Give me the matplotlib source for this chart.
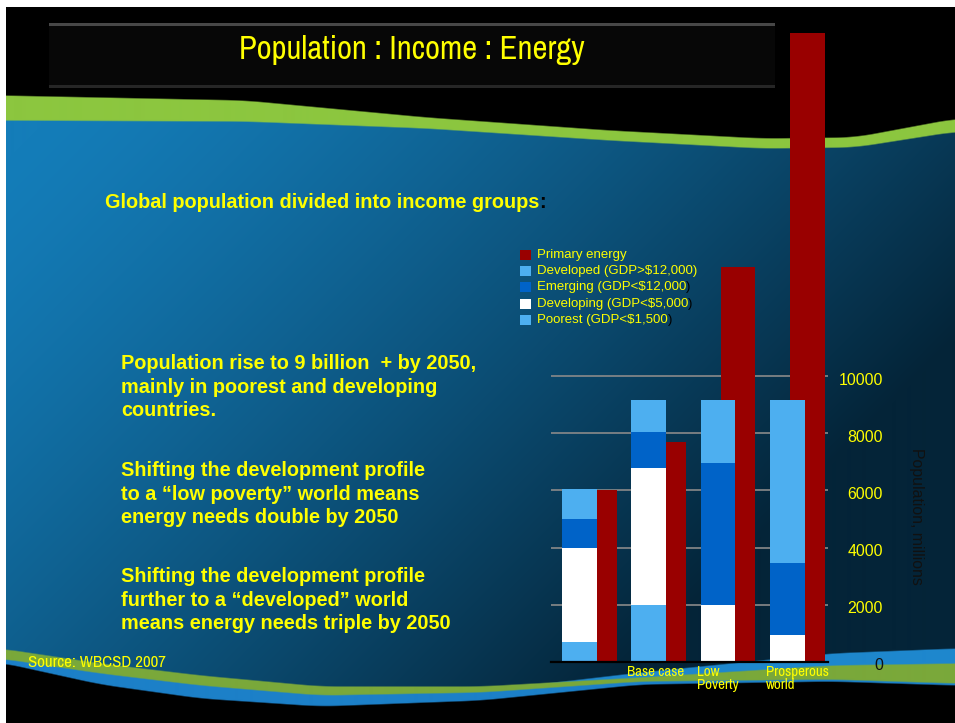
import numpy as np
import matplotlib.pyplot as plt
from matplotlib import font_manager as fm
from matplotlib.patches import Rectangle
from matplotlib.transforms import ScaledTranslation

# Population by income group (millions) and primary energy on the same scale
categories = ["", "Base case", "Low\nPoverty", "Prosperous\nworld"]
poorest = [700, 2000, 0, 0]
developing = [3300, 4800, 2000, 950]
emerging = [1000, 1250, 4950, 2500]
developed = [1050, 1100, 2200, 5700]
primary_energy = [6000, 7700, 13800, 22000]
yticks = [0, 2000, 4000, 6000, 8000, 10000]

legend_labels = ["Primary energy", "Developed (GDP>$12,000)", "Emerging (GDP<$12,000",
                 "Developing (GDP<$5,000", "Poorest (GDP<$1,500"]

RED = "#990000"
LIGHT = "#4DAFF0"
MID = "#0063C8"
YELLOW = "#FFFF00"

W, H = 955, 723
BOLD = dict(family=["Liberation Sans", "DejaVu Sans"], weight="bold")
REG = dict(family=["Liberation Sans", "DejaVu Sans"])


def narrow_font():
    # look for an installed narrow/condensed sans face
    best, best_score = None, -1
    for f in fm.fontManager.ttflist:
        name = f.name.lower()
        fname = f.fname.lower()
        if f.style != "normal" or f.weight not in (400, "normal", "regular"):
            continue
        if "mono" in name or "serif" in name and "sans" not in name:
            continue
        if "extra" in fname or "ultra" in fname or "semi" in fname:
            continue
        score = -1
        if "liberation sans narrow" in name:
            score = 10
        elif "narrow" in name or "narrow" in fname:
            score = 8
        elif f.stretch == "condensed" or "condensed" in name or "condensed" in fname:
            score = 6 if "sans" in name else 4
        if score > best_score:
            best, best_score = f, score
    if best is None:
        return None
    return best.fname


NARROW_PATH = narrow_font()


def narrow(size):
    if NARROW_PATH:
        return dict(fontproperties=fm.FontProperties(fname=NARROW_PATH, size=size))
    return dict(fontproperties=fm.FontProperties(family="Liberation Sans", size=size * 0.84))


# ---- slide background -------------------------------------------------
def curve(pts):
    px, py = zip(*pts)
    c = np.interp(np.arange(W), px, py)
    k = np.ones(41) / 41
    return np.convolve(np.pad(c, 20, mode="edge"), k, mode="valid")


yy, xx = np.mgrid[0:H, 0:W].astype(float)


def below(c, soft=1.5):
    return np.clip((yy - c[None, :]) / soft + 0.5, 0, 1)[..., None]


def paint(img, color, mask):
    col = np.array(color, dtype=float)[None, None, :] / 255.0
    return img * (1 - mask) + col * mask


t = np.clip(0.85 * xx / W + 0.5 * (yy - 110) / 570 - 0.05, 0, 1) ** 1.3
light = np.array([20, 125, 185]) / 255.0
dark = np.array([4, 36, 56]) / 255.0
bg = light[None, None, :] * (1 - t[..., None]) + dark[None, None, :] * t[..., None]

top_green_top = curve([(0, 95), (244, 100), (426, 117), (609, 130), (761, 138), (853, 137), (955, 118)])
top_green_bot = curve([(0, 120), (244, 121), (426, 128), (609, 140), (761, 148), (853, 147), (955, 131)])
bot_blue_top = curve([(0, 720), (400, 700), (520, 686), (640, 672), (830, 653), (955, 648)])
bot_green_top = curve([(0, 648), (100, 663), (200, 675), (320, 686), (480, 686), (640, 677), (830, 665), (955, 663)])
bot_green_bot = curve([(0, 658), (100, 673), (200, 685), (320, 695), (480, 692), (640, 681), (830, 679), (955, 683)])
bot_edge = np.maximum(curve([(0, 662), (100, 684), (200, 698), (320, 706), (480, 700), (640, 684), (830, 681), (955, 685)]),
                      bot_green_bot)

bg = paint(bg, (140, 198, 63), 1 - below(top_green_bot))
bg = paint(bg, (0, 0, 0), 1 - below(top_green_top))
bg = paint(bg, (30, 135, 205), below(bot_blue_top))
bg = paint(bg, (122, 168, 58), below(bot_green_top))
bg = paint(bg, (28, 128, 200), below(bot_green_bot))
bg = paint(bg, (0, 0, 0), below(bot_edge))
bg[:7, :, :] = 1.0
bg[:, :6, :] = 1.0

fig = plt.figure(figsize=(W / 100, H / 100), dpi=100)
bax = fig.add_axes([0, 0, 1, 1])
bax.imshow(bg, extent=(0, W, H, 0), interpolation="bilinear")
bax.set_xlim(0, W)
bax.set_ylim(H, 0)
bax.axis("off")

# title bar
bax.add_patch(Rectangle((49, 23), 726, 65, facecolor="#070707", edgecolor="none"))
bax.add_patch(Rectangle((49, 23), 726, 3, facecolor="#474747", edgecolor="none"))
bax.add_patch(Rectangle((49, 85), 726, 3, facecolor="#262626", edgecolor="none"))
bax.text(412, 59, "Population : Income : Energy", color=YELLOW,
         ha="center", va="baseline", **narrow(23.5))

# body text
head = bax.text(105, 208, "Global population divided into income groups", color=YELLOW,
                fontsize=14.3, va="baseline", **BOLD)
bax.annotate(":", xy=(1, 0), xycoords=head, va="bottom", ha="left",
             color="black", fontsize=14.3, **BOLD)

paragraphs = [
    (369, ["Population rise to 9 billion  + by 2050,",
           "mainly in poorest and developing", "countries."]),
    (476, ["Shifting the development profile",
           "to a \u201clow poverty\u201d world means", "energy needs double by 2050"]),
    (582, ["Shifting the development profile",
           "further to a \u201cdeveloped\u201d world", "means energy needs triple by 2050"]),
]
for base, lines in paragraphs:
    for k, line in enumerate(lines):
        bax.text(121, base + 23.7 * k, line, color=YELLOW, fontsize=14.3,
                 va="baseline", **BOLD)

bax.text(28, 667, "Source: WBCSD 2007", color=YELLOW, va="baseline", **narrow(12.2))

# legend
legend_colors = [RED, LIGHT, MID, "white", LIGHT]
for k, (lab, col) in enumerate(zip(legend_labels, legend_colors)):
    yc = 255 + 16.2 * k
    bax.add_patch(Rectangle((520, yc - 5), 11, 10, facecolor=col, edgecolor="none"))
    tx = bax.text(537, yc, lab, color=YELLOW, fontsize=9.5, va="center", **REG)
    if "(" in lab and not lab.endswith(")"):
        bax.annotate(")", xy=(1, 0), xycoords=tx, va="bottom", ha="left",
                     color="black", fontsize=9.5, **REG)

# ---- chart ---------------------------------------------------------------
ax = fig.add_axes([551 / W, (H - 662) / H, 277 / W, 630 / H])
ax.patch.set_alpha(0)
x = np.arange(len(categories))

ax.bar(x + 0.29, primary_energy, width=0.5, color=RED, zorder=2)
bottom = np.zeros(len(categories))
for vals, col in [(poorest, LIGHT), (developing, "white"), (emerging, MID), (developed, LIGHT)]:
    ax.bar(x, vals, width=0.5, bottom=bottom, color=col, zorder=3)
    bottom += np.array(vals)

ax.set_xlim(-0.41, 3.587)
ax.set_ylim(0, 22030)
ax.set_yticks(yticks)
ax.set_xticks([])
ax.tick_params(left=False, labelleft=False, right=False, labelright=False)
ax.yaxis.grid(True, color="#8a8a8a", lw=1.2)
ax.set_axisbelow(True)
for side in ["left", "right", "top"]:
    ax.spines[side].set_visible(False)
ax.spines["bottom"].set_color("black")
ax.spines["bottom"].set_linewidth(1.6)
ax.spines["bottom"].set_zorder(5)

# value labels on the right
shift = ScaledTranslation(55 / 100, -4 / 100, fig.dpi_scale_trans)
for v in yticks:
    ax.text(1.0, v, str(v), transform=ax.get_yaxis_transform() + shift,
            ha="right", va="center", fontsize=11.4,
            color="#111111" if v == 0 else YELLOW, clip_on=False, **REG)

# category labels
drop = ScaledTranslation(0, -3 / 100, fig.dpi_scale_trans)
for i, lab in enumerate(categories):
    ax.text(i - 0.31, 0, lab, transform=ax.get_xaxis_transform() + drop,
            ha="left", va="top", color=YELLOW, linespacing=0.9,
            clip_on=False, **narrow(10.8))

fig.text(916 / W, 1 - 516 / H, "Population, millions", rotation=270, ha="center",
         va="center", fontsize=11.4, color="#111111", **REG)

fig.savefig("out.png", dpi=100)
